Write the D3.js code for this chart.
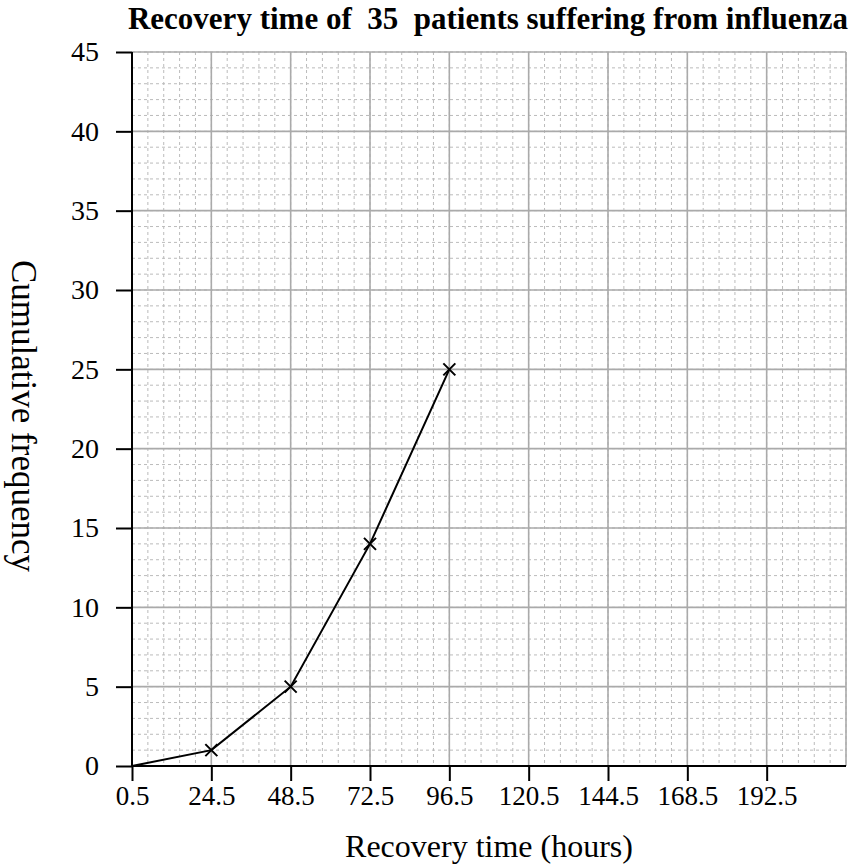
<!DOCTYPE html>
<html>
<head>
<meta charset="utf-8">
<script src="https://cdn.jsdelivr.net/npm/d3@7"></script>
<style>
  body { margin: 0; background: #fff; }
  text { font-family: "Liberation Serif", "Times New Roman", serif; fill: #000; }
</style>
</head>
<body>
<svg width="854" height="865"></svg>
<script>
// upper class boundaries and cumulative frequencies
var hours = [0.5, 24.5, 48.5, 72.5, 96.5];
var cumFreq = [0, 1, 5, 14, 25];
var xTicks = [0.5, 24.5, 48.5, 72.5, 96.5, 120.5, 144.5, 168.5, 192.5];
var yTicks = [0, 5, 10, 15, 20, 25, 30, 35, 40, 45];

var svg = d3.select("svg"),
    plotL = 132, plotR = 846, plotT = 52, plotB = 766;

var x = d3.scaleLinear().domain([0.5, 216.5]).range([plotL, plotR]);
var y = d3.scaleLinear().domain([0, 45]).range([plotB, plotT]);

// minor grid: 5 squares per major square
var xMinor = d3.range(0, 46).map(function(i) { return 0.5 + i * 4.8; });
var yMinor = d3.range(0, 46);
var grid = svg.append("g");
grid.selectAll(".vminor").data(xMinor).enter().append("line")
    .attr("x1", function(d) { return x(d); }).attr("x2", function(d) { return x(d); })
    .attr("y1", plotT).attr("y2", plotB)
    .attr("stroke", "#bbb").attr("stroke-width", 1).attr("stroke-dasharray", "3,3");
grid.selectAll(".hminor").data(yMinor).enter().append("line")
    .attr("y1", function(d) { return y(d); }).attr("y2", function(d) { return y(d); })
    .attr("x1", plotL).attr("x2", plotR)
    .attr("stroke", "#bbb").attr("stroke-width", 1).attr("stroke-dasharray", "3,3");

// major grid
var xMajor = d3.range(0, 10).map(function(i) { return 0.5 + i * 24; });
grid.selectAll(".vmajor").data(xMajor).enter().append("line")
    .attr("x1", function(d) { return x(d); }).attr("x2", function(d) { return x(d); })
    .attr("y1", plotT).attr("y2", plotB)
    .attr("stroke", "#aaa").attr("stroke-width", 1.6);
grid.selectAll(".hmajor").data(yTicks).enter().append("line")
    .attr("y1", function(d) { return y(d); }).attr("y2", function(d) { return y(d); })
    .attr("x1", plotL).attr("x2", plotR)
    .attr("stroke", "#aaa").attr("stroke-width", 1.6);

// axes
var xAxis = svg.append("g")
    .attr("transform", "translate(0," + plotB + ")")
    .call(d3.axisBottom(x).tickValues(xTicks).tickSize(15).tickSizeOuter(0).tickPadding(5)
      .tickFormat(d3.format(".1f")));
var yAxis = svg.append("g")
    .attr("transform", "translate(" + plotL + ",0)")
    .call(d3.axisLeft(y).tickValues(yTicks).tickSize(16).tickSizeOuter(0).tickPadding(17));

[xAxis, yAxis].forEach(function(a) {
  a.attr("font-family", null).attr("font-size", null);
  a.select(".domain").attr("stroke", "#000").attr("stroke-width", 2);
  a.selectAll(".tick line").attr("stroke", "#000").attr("stroke-width", 2);
  a.selectAll(".tick text").attr("fill", "#000");
});
xAxis.selectAll(".tick text").style("font-size", "27px");
yAxis.selectAll(".tick text").style("font-size", "28px");
xAxis.select(".domain").attr("d", "M" + plotL + ",0H" + plotR);
yAxis.select(".domain").attr("d", "M0," + plotB + "V" + plotT);

// ogive line
var line = d3.line()
    .x(function(d, i) { return x(hours[i]); })
    .y(function(d) { return y(d); });
svg.append("path").datum(cumFreq)
    .attr("d", line)
    .attr("fill", "none").attr("stroke", "#000").attr("stroke-width", 2);

// cross markers
var s = 6;
svg.selectAll(".cross").data(cumFreq.slice(1)).enter().append("path")
    .attr("d", function(d, i) {
      var cx = x(hours[i + 1]), cy = y(d);
      return "M" + (cx - s) + "," + (cy - s) + "L" + (cx + s) + "," + (cy + s) +
             "M" + (cx - s) + "," + (cy + s) + "L" + (cx + s) + "," + (cy - s);
    })
    .attr("stroke", "#000").attr("stroke-width", 2).attr("fill", "none");

// titles
svg.append("text")
    .attr("x", 848).attr("y", 29)
    .attr("text-anchor", "end")
    .style("font-size", "31px").style("font-weight", "bold")
    .style("white-space", "pre")
    .text("Recovery time of  35  patients suffering from influenza");

svg.append("text")
    .attr("x", 489).attr("y", 857)
    .attr("text-anchor", "middle")
    .style("font-size", "32px")
    .text("Recovery time (hours)");

svg.append("text")
    .attr("transform", "translate(12," + 416 + ") rotate(90)")
    .attr("text-anchor", "middle")
    .style("font-size", "35px")
    .text("Cumulative frequency");
</script>
</body>
</html>
